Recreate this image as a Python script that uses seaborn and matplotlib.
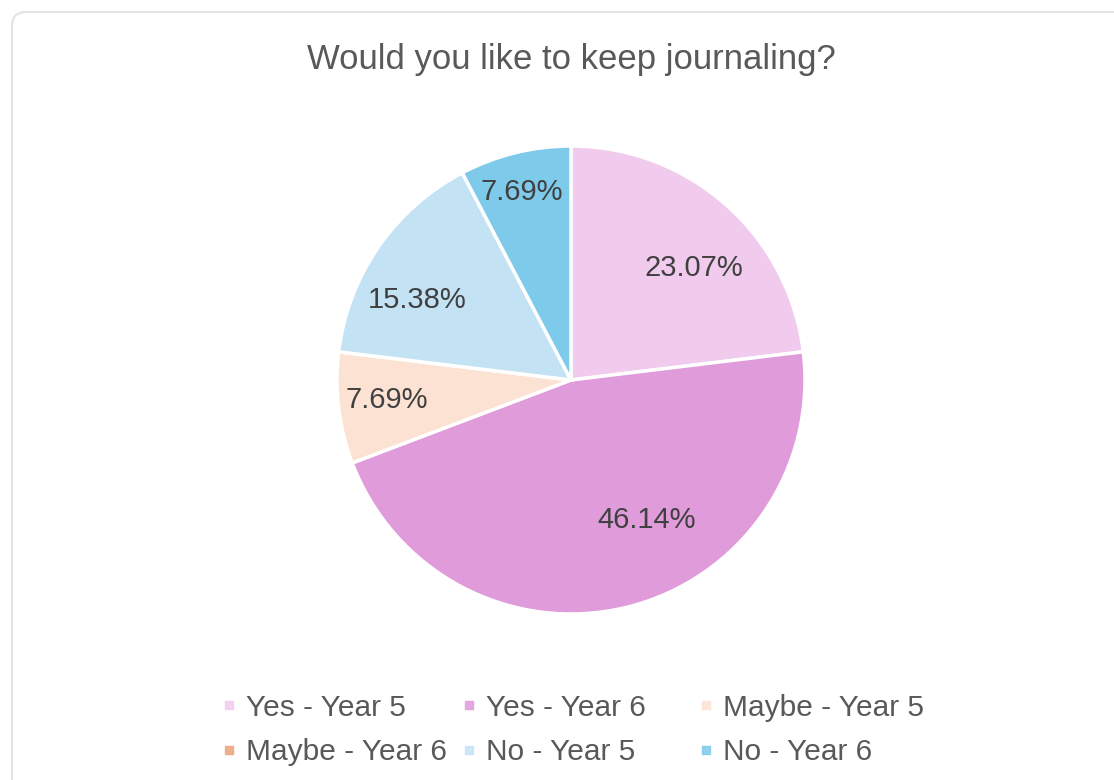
import numpy as np
import matplotlib
matplotlib.use("Agg")
import matplotlib.pyplot as plt
import matplotlib.transforms as mtransforms
from matplotlib.lines import Line2D
from matplotlib.patches import FancyBboxPatch
import seaborn as sns

# Data
categories = ["Yes - Year 5", "Yes - Year 6", "Maybe - Year 5",
              "Maybe - Year 6", "No - Year 5", "No - Year 6"]
shares = [23.07, 46.14, 7.69, 0.0, 15.38, 7.69]
slice_colors = ["#f1cbee", "#e09bdb", "#fbe2d3", "#eea27f", "#c3e3f5", "#7dcaea"]

# label placement tweaks (radius as fraction of pie radius, turn in degrees)
label_radius = [0.71, 0.68, 0.79, 0.0, 0.74, 0.83]
label_turn = [-6, 14.5, -0.8, 0, 7, 0.7]

sns.set_theme(style="white")
plt.rcParams["font.family"] = ["Liberation Sans", "DejaVu Sans"]

W, H = 1114, 780
fig = plt.figure(figsize=(W / 100, H / 100), dpi=100)
fig.patch.set_facecolor("white")

# card border (rounded top-left corner, runs off right and bottom)
frame = FancyBboxPatch((12, -30), W + 40, H - 12 + 30,
                       boxstyle="round,pad=0,rounding_size=14",
                       transform=mtransforms.IdentityTransform(),
                       facecolor="none", edgecolor="#e4e4e4", linewidth=1.6,
                       zorder=-1)
fig.add_artist(frame)

# pie centre (571, 380) px, radius 234 px
cx, cy, R = 571, 380, 234
half = 1.1 * R
ax = fig.add_axes([(cx - half) / W, (H - cy - half) / H, 2 * half / W, 2 * half / H])
wedges, _ = ax.pie(shares, colors=slice_colors, startangle=90, counterclock=False,
                   wedgeprops=dict(edgecolor="white", linewidth=2.5))
ax.set_xlim(-1.1, 1.1)
ax.set_ylim(-1.1, 1.1)
ax.set_aspect("equal")
ax.axis("off")

for i, w in enumerate(wedges):
    if shares[i] <= 0:
        continue
    ang = np.deg2rad((w.theta1 + w.theta2) / 2 + label_turn[i])
    r = label_radius[i]
    ax.text(r * np.cos(ang), r * np.sin(ang), f"{shares[i]:.2f}%",
            ha="center", va="center", fontsize=21, color="#404040")

fig.text(cx / W, 1 - 59 / H, "Would you like to keep journaling?",
         ha="center", va="center", fontsize=25, color="#595959")

# legend laid out as a 3-column grid, filled row by row
handles = [Line2D([], [], marker="s", linestyle="none", markersize=6,
                  color=c, alpha=0.85) for c in slice_colors]
col_left = [222, 462, 699]
for col in range(3):
    idx = [col, col + 3]
    fig.legend([handles[i] for i in idx], [categories[i] for i in idx],
               loc="center left", bbox_to_anchor=(col_left[col] / W, 1 - 730 / H),
               frameon=False, fontsize=21.5, labelcolor="#595959",
               handlelength=0.5, handletextpad=0.3, labelspacing=0.55,
               borderpad=0, borderaxespad=0)

fig.savefig("out.png", dpi=100, facecolor="white")
